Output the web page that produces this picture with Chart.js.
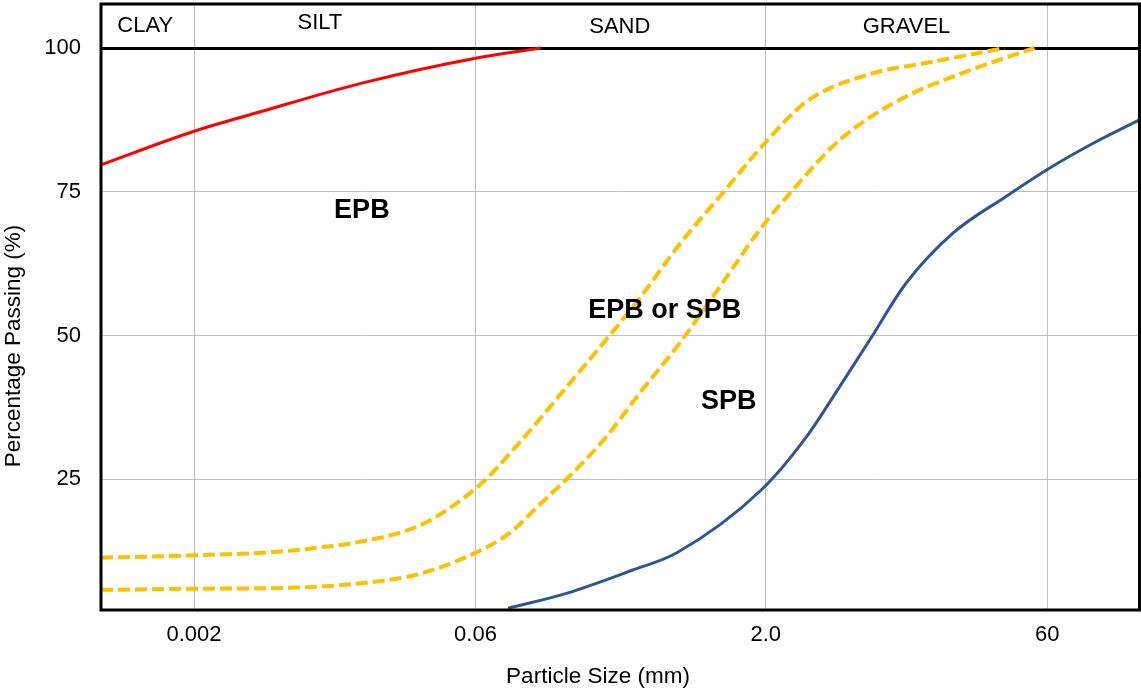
<!DOCTYPE html>
<html><head><meta charset="utf-8">
<script src="https://cdn.jsdelivr.net/npm/chart.js@4.4.1/dist/chart.umd.min.js"></script>
<style>html,body{margin:0;padding:0;background:#fff;overflow:hidden;}</style>
</head><body>
<canvas id="c" width="1141" height="691"></canvas>
<script>
// ---- tick labels ----
const xTickValues = [0.002, 0.06, 2.0, 60];
const xTickLabels = ['0.002', '0.06', '2.0', '60'];
const yTickValues = [25, 50, 75, 100];

// ---- soil classes (header band) ----
const soilClasses = ['CLAY', 'SILT', 'SAND', 'GRAVEL'];
const soilClassX = [0.00111, 0.00915, 0.343, 10.96];
const soilClassY = [103.8, 104.35, 103.65, 103.65];

// ---- zone labels ----
const zoneLabels = ['EPB', 'EPB or SPB', 'SPB'];
const zoneX = [0.0152, 0.590, 1.278];
const zoneY = [71.7, 54.4, 38.5];

// ---- series: particle size (mm) and percentage passing (%) ----
const epbLimitX = [0.00065, 0.00195, 0.00455, 0.0152, 0.064, 0.132];
const epbLimitY = [79.7, 85.4, 89.0, 93.9, 98.4, 100];

const upperX = [0.00065, 0.00195, 0.00677, 0.0227, 0.0337, 0.064, 0.0942, 0.204, 0.436, 0.707, 1.19, 1.90, 3.28, 6.76, 15.0, 35.8];
const upperY = [11.4, 11.8, 12.7, 15.5, 17.7, 24.2, 30.1, 43.2, 56.5, 65.9, 74.8, 82.8, 90.7, 95.3, 97.6, 100];

const lowerX = [0.00065, 0.00195, 0.00677, 0.0227, 0.0337, 0.064, 0.0908, 0.130, 0.194, 0.293, 0.436, 0.707, 1.15, 1.86, 2.77, 4.88, 10.1, 22.6, 51.4];
const lowerY = [5.8, 6.0, 6.2, 7.7, 9.0, 12.7, 15.7, 20.6, 26.1, 32.5, 40.0, 48.7, 58.5, 68.4, 75.3, 84.0, 91.0, 95.9, 100];

const spbLimitX = [0.0889, 0.180, 0.401, 0.680, 1.90, 3.27, 4.88, 7.01, 10.9, 19.2, 36.5, 61.6, 104, 183];
const spbLimitY = [2.6, 5.2, 9.25, 12.2, 23.2, 32.4, 41.1, 49.2, 59.1, 67.8, 74.2, 79.1, 83.4, 87.5];

const FONT = "'Liberation Sans', Arial, Helvetica, sans-serif";
const pts = (xs, ys) => xs.map((v, i) => ({x: v, y: ys[i]}));

const overlay = {
  id: 'overlay',
  afterDatasetsDraw(chart) {
    const {ctx, chartArea: a, scales: {x, y}} = chart;
    ctx.save();
    ctx.strokeStyle = '#000';
    ctx.lineWidth = 3;
    ctx.strokeRect(a.left, a.top, a.right - a.left, a.bottom - a.top);
    ctx.fillStyle = '#000';
    ctx.textAlign = 'center';
    ctx.textBaseline = 'middle';
    ctx.font = '22px ' + FONT;
    soilClasses.forEach((t, i) => ctx.fillText(t, x.getPixelForValue(soilClassX[i]), y.getPixelForValue(soilClassY[i])));
    ctx.font = 'bold 27px ' + FONT;
    zoneLabels.forEach((t, i) => ctx.fillText(t, x.getPixelForValue(zoneX[i]), y.getPixelForValue(zoneY[i])));
    ctx.font = '22.5px ' + FONT;
    ctx.fillText('Particle Size (mm)', 598, 677);
    ctx.translate(14, 346);
    ctx.rotate(-Math.PI / 2);
    ctx.fillText('Percentage Passing (%)', 0, 0);
    ctx.restore();
  }
};

const lineBase = {showLine: true, pointRadius: 0, fill: false, cubicInterpolationMode: 'monotone'};

new Chart(document.getElementById('c'), {
  type: 'line',
  data: {
    datasets: [
      Object.assign({label: 'EPB limit', data: pts(epbLimitX, epbLimitY), borderColor: '#FF0000', borderWidth: 3}, lineBase),
      Object.assign({label: 'Upper transition', data: pts(upperX, upperY), borderColor: '#FFC000', borderWidth: 4, borderDash: [12, 5]}, lineBase),
      Object.assign({label: 'Lower transition', data: pts(lowerX, lowerY), borderColor: '#FFC000', borderWidth: 4, borderDash: [12, 5]}, lineBase),
      Object.assign({label: 'SPB limit', data: pts(spbLimitX, spbLimitY), borderColor: '#2F5597', borderWidth: 3}, lineBase)
    ]
  },
  options: {
    responsive: false,
    animation: false,
    devicePixelRatio: 1,
    layout: {padding: {top: 4, right: 1.5, left: 0, bottom: 0}},
    plugins: {legend: {display: false}, tooltip: {enabled: false}},
    scales: {
      x: {
        type: 'logarithmic',
        min: 0.00065,
        max: 183,
        afterBuildTicks: s => { s.ticks = xTickValues.map(v => ({value: v})); },
        afterFit: s => { s.height = 81; s.paddingLeft = 0; s.paddingRight = 0; },
        ticks: {
          callback: v => xTickLabels[xTickValues.indexOf(v)],
          font: {family: FONT, size: 22}, color: '#000', padding: 12,
          maxRotation: 0, autoSkip: false
        },
        grid: {color: '#BFBFBF', lineWidth: 1, drawTicks: false},
        border: {display: false}
      },
      y: {
        type: 'linear',
        min: 2.3,
        max: 107.65,
        afterBuildTicks: s => { s.ticks = yTickValues.map(v => ({value: v})); },
        afterFit: s => { s.width = 101; s.paddingTop = 0; s.paddingBottom = 0; },
        ticks: {
          callback: v => String(v),
          font: {family: FONT, size: 22}, color: '#000', padding: 20
        },
        grid: {
          color: c => (c.tick && c.tick.value === 100) ? '#000' : '#BFBFBF',
          lineWidth: c => (c.tick && c.tick.value === 100) ? 3 : 1,
          drawTicks: false
        },
        border: {display: false}
      }
    }
  },
  plugins: [overlay]
});
</script>
</body></html>
